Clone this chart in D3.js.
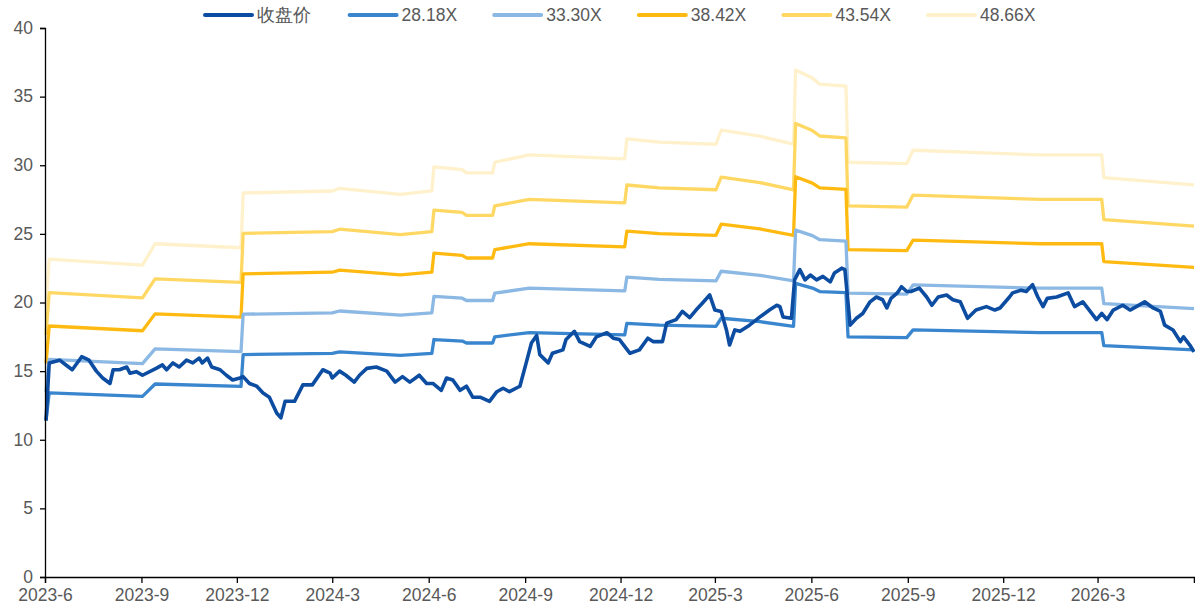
<!DOCTYPE html>
<html>
<head>
<meta charset="utf-8">
<script src="https://cdn.jsdelivr.net/npm/d3@7"></script>
<style>
    body { margin: 0; background: #fff; }
    #chart { display: block; }
    text { font-family: "Liberation Sans", Arial, sans-serif; }
</style>
</head>
<body>
<svg id="chart" width="1195" height="611"></svg>
<script>
// closing price
const closeDates = [
    "2023-06-02","2023-06-05","2023-06-15","2023-06-21","2023-06-27","2023-07-06","2023-07-13","2023-07-20","2023-07-26","2023-08-02",
    "2023-08-05","2023-08-11","2023-08-18","2023-08-21","2023-08-27","2023-09-02","2023-09-15","2023-09-21","2023-09-25","2023-10-01",
    "2023-10-07","2023-10-14","2023-10-20","2023-10-26","2023-10-29","2023-11-03","2023-11-07","2023-11-15","2023-11-21","2023-11-27",
    "2023-12-04","2023-12-07","2023-12-13","2023-12-20","2023-12-26","2024-01-01","2024-01-08","2024-01-12","2024-01-16","2024-01-25",
    "2024-02-02","2024-02-11","2024-02-21","2024-02-28","2024-03-01","2024-03-08","2024-03-14","2024-03-22","2024-03-27","2024-04-03",
    "2024-04-12","2024-04-22","2024-04-30","2024-05-07","2024-05-14","2024-05-23","2024-05-30","2024-06-05","2024-06-13","2024-06-18",
    "2024-06-24","2024-07-01","2024-07-07","2024-07-13","2024-07-20","2024-07-29","2024-08-05","2024-08-11","2024-08-17","2024-08-27",
    "2024-09-02","2024-09-07","2024-09-12","2024-09-15","2024-09-23","2024-09-27","2024-10-07","2024-10-10","2024-10-18","2024-10-23",
    "2024-11-02","2024-11-08","2024-11-18","2024-11-24","2024-11-30","2024-12-10","2024-12-19","2024-12-27","2025-01-01","2025-01-10",
    "2025-01-14","2025-01-23","2025-01-29","2025-02-05","2025-02-11","2025-02-17","2025-02-24","2025-03-01","2025-03-07","2025-03-12",
    "2025-03-15","2025-03-20","2025-03-25","2025-04-03","2025-04-13","2025-04-22","2025-04-29","2025-05-02","2025-05-05","2025-05-13",
    "2025-05-16","2025-05-21","2025-05-26","2025-05-31","2025-06-06","2025-06-12","2025-06-19","2025-06-23","2025-06-30","2025-07-03",
    "2025-07-08","2025-07-14","2025-07-20","2025-07-27","2025-08-02","2025-08-08","2025-08-12","2025-08-16","2025-08-22","2025-08-26",
    "2025-08-31","2025-09-04","2025-09-12","2025-09-19","2025-09-24","2025-09-30","2025-10-08","2025-10-14","2025-10-21","2025-10-28",
    "2025-11-05","2025-11-15","2025-11-23","2025-11-28","2025-12-07","2025-12-10","2025-12-18","2025-12-23","2025-12-29","2026-01-03",
    "2026-01-08","2026-01-12","2026-01-21","2026-02-01","2026-02-07","2026-02-15","2026-02-22","2026-02-28","2026-03-05","2026-03-10",
    "2026-03-16","2026-03-25","2026-04-01","2026-04-07","2026-04-15","2026-04-23","2026-04-30","2026-05-04","2026-05-12","2026-05-19",
    "2026-05-22","2026-05-28","2026-06-01"
];
const closeVals = [
    11.4,15.6,15.8,15.45,15.1,16.05,15.8,15.0,14.5,14.1,
    15.1,15.1,15.3,14.85,14.96,14.7,15.2,15.45,15.1,15.6,
    15.3,15.8,15.6,15.95,15.6,15.95,15.3,15.1,14.7,14.35,
    14.5,14.6,14.1,13.9,13.4,13.1,11.95,11.6,12.8,12.8,
    14.0,14.0,15.1,14.85,14.5,15.0,14.7,14.2,14.7,15.2,
    15.3,15.0,14.2,14.6,14.2,14.7,14.1,14.1,13.6,14.5,
    14.35,13.6,13.9,13.1,13.1,12.8,13.5,13.75,13.5,13.9,
    15.6,17.05,17.6,16.2,15.6,16.3,16.55,17.3,17.9,17.15,
    16.8,17.5,17.8,17.4,17.3,16.3,16.55,17.4,17.15,17.15,
    18.5,18.75,19.35,18.9,19.45,19.95,20.55,19.45,19.35,18.0,
    16.9,18.0,17.9,18.35,18.95,19.45,19.8,19.7,18.95,18.85,
    21.65,22.4,21.65,22.0,21.65,21.9,21.5,22.15,22.5,22.4,
    18.35,18.85,19.2,20.05,20.4,20.2,19.6,20.3,20.7,21.15,
    20.8,20.8,21.05,20.4,19.8,20.4,20.55,20.2,20.05,18.85,
    19.45,19.7,19.45,19.6,20.4,20.7,20.9,20.8,21.3,20.4,
    19.7,20.3,20.4,20.7,19.7,20.05,19.35,18.75,19.2,18.75,
    19.45,19.8,19.45,19.7,20.05,19.6,19.35,18.35,18.0,17.15,
    17.5,16.9,16.4
];

// forward EPS behind the PE band lines
const epsDates = [
    "2023-06-02","2023-06-05","2023-09-02","2023-09-14","2023-12-05","2023-12-07","2024-03-01","2024-03-08","2024-05-05","2024-06-04",
    "2024-06-06","2024-07-03","2024-07-07","2024-08-01","2024-08-03","2024-09-05","2024-12-05","2024-12-07","2025-01-07","2025-03-02",
    "2025-03-07","2025-04-13","2025-05-15","2025-05-17","2025-06-02","2025-06-09","2025-07-04","2025-07-06","2025-08-31","2025-09-06",
    "2026-01-05","2026-03-05","2026-03-07","2026-06-01"
];
const eps = [
    0.405,0.476,0.467,0.499,0.493,0.575,0.578,0.582,0.573,0.578,
    0.614,0.610,0.605,0.605,0.621,0.632,0.626,0.656,0.651,0.648,
    0.669,0.660,0.648,0.759,0.747,0.738,0.735,0.621,0.619,0.639,
    0.632,0.632,0.598,0.587
];
const multiples = [28.18, 33.30, 38.42, 43.54, 48.66];
const seriesNames = ["收盘价", "28.18X", "33.30X", "38.42X", "43.54X", "48.66X"];
const seriesColors = ["#0D4DA1", "#3A86CE", "#8CB8E4", "#FFBA12", "#FFD864", "#FFF1CB"];
const yTicks = [0, 5, 10, 15, 20, 25, 30, 35, 40];
const xTicks = ["2023-06-01","2023-09-01","2023-12-01","2024-03-01","2024-06-01","2024-09-01","2024-12-01",
                "2025-03-01","2025-06-01","2025-09-01","2025-12-01","2026-03-01","2026-06-01"];
const xTickLabels = ["2023-6","2023-9","2023-12","2024-3","2024-6","2024-9","2024-12",
                     "2025-3","2025-6","2025-9","2025-12","2026-3",""];

const parse = d3.timeParse("%Y-%m-%d");

const buildVis = (svg_name) => {
    let chart = d3.select(svg_name);
    let chart_width = +chart.attr("width");
    let chart_height = +chart.attr("height");
    let margin = {left: 45, right: 1, top: 28, bottom: 34};

    let x = d3.scaleTime()
        .domain([parse("2023-06-01"), parse("2026-06-01")])
        .range([margin.left, chart_width - margin.right]);
    let y = d3.scaleLinear()
        .domain([0, 40])
        .range([chart_height - margin.bottom, margin.top]);

    let closeData = closeDates.map((d, i) => ({date: parse(d), v: closeVals[i]}));
    let bands = multiples.map((m) => epsDates.map((d, i) => ({date: parse(d), v: eps[i] * m})));

    let line = d3.line()
        .x((d) => x(d.date))
        .y((d) => y(d.v));

    // bands from the top one down, close price on top
    for (let i = bands.length - 1; i >= 0; i--) {
        chart.append("path")
            .datum(bands[i])
            .attr("fill", "none")
            .attr("stroke", seriesColors[i + 1])
            .attr("stroke-width", 3.3)
            .attr("stroke-linejoin", "round")
            .attr("d", line);
    }
    chart.append("path")
        .datum(closeData)
        .attr("fill", "none")
        .attr("stroke", seriesColors[0])
        .attr("stroke-width", 3.6)
        .attr("stroke-linejoin", "round")
        .attr("d", line);

    let y_axis = d3.axisLeft(y).tickValues(yTicks).tickSize(5).tickPadding(7).tickFormat(d3.format("d"));
    let yg = chart.append("g").attr("transform", "translate(" + margin.left + ",0)").call(y_axis);

    let x_axis = d3.axisBottom(x)
        .tickValues(xTicks.map(parse))
        .tickSize(6)
        .tickPadding(6)
        .tickFormat((d, i) => xTickLabels[i]);
    let xg = chart.append("g").attr("transform", "translate(0," + (chart_height - margin.bottom) + ")").call(x_axis);

    [yg, xg].forEach((g) => {
        g.select(".domain").attr("stroke", "#000").attr("stroke-width", 1.3);
        g.selectAll(".tick line").attr("stroke", "#000").attr("stroke-width", 1.3);
        g.selectAll(".tick text").attr("fill", "#595959").style("font-size", "17.5px");
    });
    yg.selectAll(".tick text").attr("dy", "0.3em");

    // legend
    let legend = chart.selectAll(".legend")
        .data(seriesNames)
        .enter().append("g")
        .attr("class", "legend")
        .attr("transform", (d, i) => "translate(" + (203 + i * 144.6) + ",15)");
    legend.append("line")
        .attr("x1", 2).attr("x2", 49)
        .attr("stroke", (d, i) => seriesColors[i])
        .attr("stroke-width", 4)
        .attr("stroke-linecap", "round");
    legend.append("text")
        .attr("x", 54)
        .attr("dy", "0.35em")
        .attr("fill", "#595959")
        .style("font-size", "17.5px")
        .text((d) => d);
}

buildVis("#chart");
</script>
</body>
</html>
